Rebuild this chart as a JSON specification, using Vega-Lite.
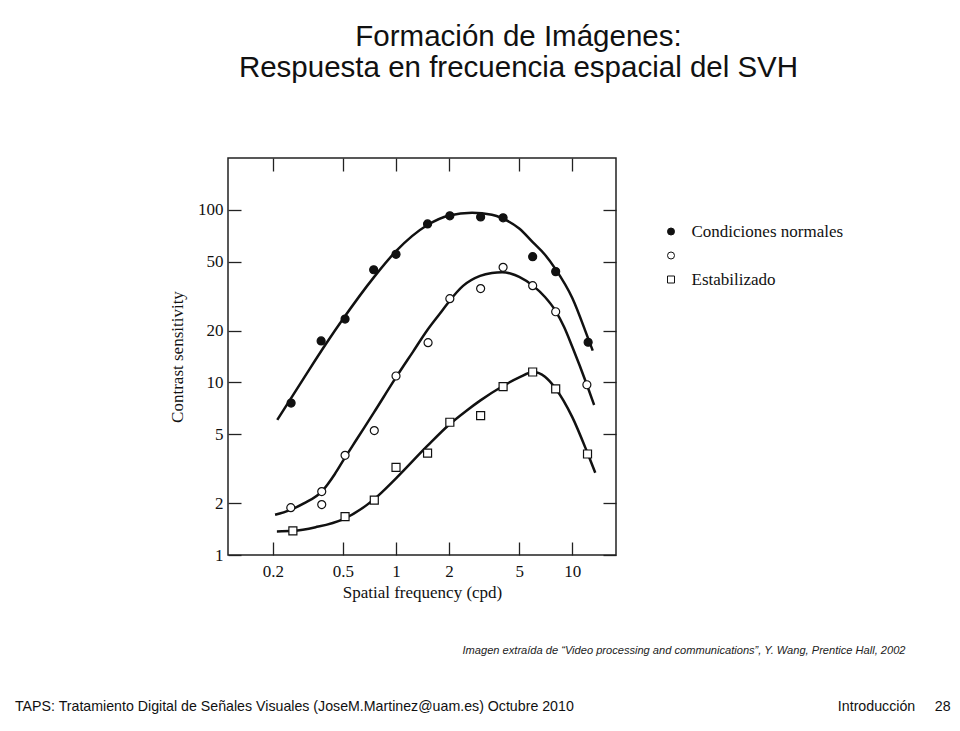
{
  "$schema": "https://vega.github.io/schema/vega-lite/v6.json",
  "width": 388,
  "height": 397,
  "autosize": "none",
  "padding": {"left": 228, "top": 158, "right": 344, "bottom": 176},
  "background": "white",
  "config": {
    "view": {"stroke": "#222", "strokeWidth": 1.5},
    "axis": {
      "domain": false, "grid": false,
      "tickColor": "#222", "tickWidth": 1.3, "tickSize": -13,
      "labelFont": "Liberation Serif", "labelFontSize": 17, "labelColor": "#111",
      "titleFont": "Liberation Serif", "titleFontSize": 17, "titleFontWeight": "normal", "titleColor": "#111"
    },
    "legend": {"symbolStrokeWidth": 1}
  },
  "title": {
    "text": "TAPS: Tratamiento Digital de Señales Visuales (JoseM.Martinez@uam.es) Octubre 2010\u00a0\u00a0\u00a0\u00a0\u00a0\u00a0\u00a0\u00a0\u00a0\u00a0\u00a0\u00a0\u00a0\u00a0\u00a0\u00a0\u00a0\u00a0\u00a0\u00a0\u00a0\u00a0\u00a0\u00a0\u00a0\u00a0\u00a0\u00a0\u00a0\u00a0\u00a0\u00a0\u00a0\u00a0\u00a0\u00a0\u00a0\u00a0\u00a0\u00a0\u00a0\u00a0\u00a0\u00a0\u00a0\u00a0\u00a0\u00a0\u00a0\u00a0\u00a0\u00a0\u00a0\u00a0\u00a0\u00a0\u00a0\u00a0\u00a0\u00a0\u00a0\u00a0\u00a0\u00a0\u00a0\u00a0\u00a0Introducción\u00a0\u00a0\u00a0\u00a0\u00a028",
    "orient": "bottom", "anchor": "start", "frame": "group", "offset": 56, "dx": -213,
    "baseline": "alphabetic", "font": "Liberation Sans", "fontSize": 14.2, "fontWeight": "normal", "color": "#111"
  },
  "datasets": {
    "curves": [
      {"serie": "normal", "f": 0.212, "s": 6.07}, {"serie": "normal", "f": 0.3, "s": 10.6}, {"serie": "normal", "f": 0.4, "s": 16.7},
      {"serie": "normal", "f": 0.5, "s": 23.3}, {"serie": "normal", "f": 0.75, "s": 40.8}, {"serie": "normal", "f": 1.0, "s": 57.7},
      {"serie": "normal", "f": 1.5, "s": 81.5}, {"serie": "normal", "f": 2.0, "s": 92.9}, {"serie": "normal", "f": 2.7, "s": 96.4},
      {"serie": "normal", "f": 3.5, "s": 93.8}, {"serie": "normal", "f": 4.0, "s": 89.5}, {"serie": "normal", "f": 5.0, "s": 78},
      {"serie": "normal", "f": 6.0, "s": 64.6}, {"serie": "normal", "f": 7.0, "s": 55}, {"serie": "normal", "f": 8.0, "s": 45.7},
      {"serie": "normal", "f": 10.0, "s": 30.9}, {"serie": "normal", "f": 12.3, "s": 18}, {"serie": "normal", "f": 13.06, "s": 15.3},
      {"serie": "otro", "f": 0.206, "s": 1.71}, {"serie": "otro", "f": 0.25, "s": 1.82}, {"serie": "otro", "f": 0.3, "s": 1.99},
      {"serie": "otro", "f": 0.38, "s": 2.34}, {"serie": "otro", "f": 0.45, "s": 2.95}, {"serie": "otro", "f": 0.5, "s": 3.51},
      {"serie": "otro", "f": 0.6, "s": 4.7}, {"serie": "otro", "f": 0.75, "s": 6.71}, {"serie": "otro", "f": 1.0, "s": 10.7},
      {"serie": "otro", "f": 1.25, "s": 15.1}, {"serie": "otro", "f": 1.5, "s": 20.0}, {"serie": "otro", "f": 1.776, "s": 25.1},
      {"serie": "otro", "f": 2.0, "s": 29.5}, {"serie": "otro", "f": 2.4, "s": 36.3}, {"serie": "otro", "f": 3.0, "s": 41.5},
      {"serie": "otro", "f": 3.5, "s": 43.1}, {"serie": "otro", "f": 4.0, "s": 43.5}, {"serie": "otro", "f": 4.5, "s": 42.7},
      {"serie": "otro", "f": 5.0, "s": 40.9}, {"serie": "otro", "f": 6.0, "s": 36.3}, {"serie": "otro", "f": 7.0, "s": 31.3},
      {"serie": "otro", "f": 8.0, "s": 26.2}, {"serie": "otro", "f": 9.0, "s": 20.9}, {"serie": "otro", "f": 10.0, "s": 16.1},
      {"serie": "otro", "f": 12.1, "s": 9.7}, {"serie": "otro", "f": 13.3, "s": 7.4},
      {"serie": "estabilizado", "f": 0.211, "s": 1.37}, {"serie": "estabilizado", "f": 0.26, "s": 1.38}, {"serie": "estabilizado", "f": 0.35, "s": 1.45},
      {"serie": "estabilizado", "f": 0.5, "s": 1.61}, {"serie": "estabilizado", "f": 0.75, "s": 2.1}, {"serie": "estabilizado", "f": 1.0, "s": 2.78},
      {"serie": "estabilizado", "f": 1.5, "s": 4.27}, {"serie": "estabilizado", "f": 2.0, "s": 5.69}, {"serie": "estabilizado", "f": 2.5, "s": 6.84},
      {"serie": "estabilizado", "f": 3.0, "s": 7.85}, {"serie": "estabilizado", "f": 4.0, "s": 9.48}, {"serie": "estabilizado", "f": 5.0, "s": 10.7},
      {"serie": "estabilizado", "f": 6.0, "s": 11.5}, {"serie": "estabilizado", "f": 7.0, "s": 10.8}, {"serie": "estabilizado", "f": 8.0, "s": 9.3},
      {"serie": "estabilizado", "f": 10.0, "s": 6.3}, {"serie": "estabilizado", "f": 12.2, "s": 3.9}, {"serie": "estabilizado", "f": 13.5, "s": 3.0}
    ],
    "points": [
      {"serie": "normal", "f": 0.254, "s": 7.6}, {"serie": "normal", "f": 0.376, "s": 17.4}, {"serie": "normal", "f": 0.514, "s": 23.3},
      {"serie": "normal", "f": 0.747, "s": 45}, {"serie": "normal", "f": 1.0, "s": 55.3}, {"serie": "normal", "f": 1.51, "s": 83},
      {"serie": "normal", "f": 2.02, "s": 92.5}, {"serie": "normal", "f": 3.02, "s": 91}, {"serie": "normal", "f": 4.05, "s": 90},
      {"serie": "normal", "f": 5.96, "s": 53.6}, {"serie": "normal", "f": 8.05, "s": 43.9}, {"serie": "normal", "f": 12.3, "s": 17.1},
      {"serie": "otro", "f": 0.253, "s": 1.88}, {"serie": "otro", "f": 0.379, "s": 2.33}, {"serie": "otro", "f": 0.379, "s": 1.96},
      {"serie": "otro", "f": 0.514, "s": 3.78}, {"serie": "otro", "f": 0.753, "s": 5.26}, {"serie": "otro", "f": 1.0, "s": 10.9},
      {"serie": "otro", "f": 1.52, "s": 17.0}, {"serie": "otro", "f": 2.02, "s": 30.6}, {"serie": "otro", "f": 3.02, "s": 35},
      {"serie": "otro", "f": 4.05, "s": 46.5}, {"serie": "otro", "f": 5.96, "s": 36.4}, {"serie": "otro", "f": 8.05, "s": 25.7},
      {"serie": "otro", "f": 12.1, "s": 9.7},
      {"serie": "estabilizado", "f": 0.26, "s": 1.38}, {"serie": "estabilizado", "f": 0.514, "s": 1.67}, {"serie": "estabilizado", "f": 0.753, "s": 2.08},
      {"serie": "estabilizado", "f": 1.0, "s": 3.22}, {"serie": "estabilizado", "f": 1.51, "s": 3.89}, {"serie": "estabilizado", "f": 2.02, "s": 5.88},
      {"serie": "estabilizado", "f": 3.02, "s": 6.42}, {"serie": "estabilizado", "f": 4.05, "s": 9.46}, {"serie": "estabilizado", "f": 5.96, "s": 11.5},
      {"serie": "estabilizado", "f": 8.05, "s": 9.17}, {"serie": "estabilizado", "f": 12.2, "s": 3.85}
    ]
  },
  "layer": [
    {
      "data": {"name": "curves"},
      "mark": {"type": "line", "interpolate": "monotone", "stroke": "#111", "strokeWidth": 2.5},
      "encoding": {
        "x": {"field": "f", "type": "quantitative",
              "scale": {"type": "log", "domain": [0.1114, 17.7], "nice": false},
              "axis": {"orient": "bottom", "values": [0.2, 0.5, 1, 2, 5, 10], "format": "~g", "labelPadding": 21,
                       "title": "Spatial frequency (cpd)", "titleY": 42, "titleBaseline": "alphabetic"}},
        "y": {"field": "s", "type": "quantitative",
              "scale": {"type": "log", "domain": [1, 200], "nice": false},
              "axis": {"orient": "left", "values": [1, 2, 5, 10, 20, 50, 100], "format": "~g", "labelPadding": 18,
                       "title": "Contrast sensitivity", "titleX": -46, "titleY": 198.5, "titleBaseline": "alphabetic", "titleAngle": -90}},
        "detail": {"field": "serie", "type": "nominal"}
      }
    },
    {
      "data": {"name": "points"},
      "mark": {"type": "point", "filled": true, "strokeWidth": 1.2, "opacity": 1, "size": 64},
      "encoding": {
        "x": {"field": "f", "type": "quantitative",
              "scale": {"type": "log", "domain": [0.1114, 17.7], "nice": false},
              "axis": {"orient": "top", "values": [0.2, 0.5, 1, 2, 5, 10], "labels": false,
                       "title": ["Formación de Imágenes:", "Respuesta en frecuencia espacial del SVH"],
                       "titleFont": "Liberation Sans", "titleFontSize": 29.5, "titleColor": "#111",
                       "titleX": 290, "titleY": -113, "titleAlign": "center", "titleBaseline": "alphabetic",
                       "titleAngle": 0, "titleLineHeight": 31}},
        "y": {"field": "s", "type": "quantitative",
              "scale": {"type": "log", "domain": [1, 200], "nice": false},
              "axis": {"orient": "right", "values": [1, 2, 5, 10, 20, 50, 100], "labels": false,
                       "title": "Imagen extraída de “Video processing and communications”, Y. Wang, Prentice Hall, 2002",
                       "titleFont": "Liberation Sans", "titleFontSize": 11.1, "titleFontStyle": "italic", "titleColor": "#222",
                       "titleX": 289, "titleY": 495, "titleAlign": "right", "titleBaseline": "alphabetic", "titleAngle": 0}},
        "shape": {"field": "serie", "type": "nominal",
                  "scale": {"domain": ["normal", "otro", "estabilizado"], "range": ["circle", "circle", "square"]},
                  "legend": {"orient": "none", "legendX": 434.5, "legendY": 65, "title": null, "padding": 0,
                             "symbolSize": 49, "labelOffset": 12, "rowPadding": 6,
                             "labelFont": "Liberation Serif", "labelFontSize": 17, "labelColor": "#111",
                             "labelExpr": "datum.value == 'normal' ? 'Condiciones normales' : datum.value == 'estabilizado' ? 'Estabilizado' : ''"}},
        "fill": {"field": "serie", "type": "nominal",
                 "scale": {"domain": ["normal", "otro", "estabilizado"], "range": ["#111", "white", "white"]},
                 "legend": {"orient": "none", "legendX": 434.5, "legendY": 65, "title": null, "padding": 0,
                            "symbolSize": 49, "labelOffset": 12, "rowPadding": 6,
                            "labelFont": "Liberation Serif", "labelFontSize": 17, "labelColor": "#111",
                            "labelExpr": "datum.value == 'normal' ? 'Condiciones normales' : datum.value == 'estabilizado' ? 'Estabilizado' : ''"}},
        "stroke": {"field": "serie", "type": "nominal",
                   "scale": {"domain": ["normal", "otro", "estabilizado"], "range": ["#111", "#111", "#111"]},
                   "legend": {"orient": "none", "legendX": 434.5, "legendY": 65, "title": null, "padding": 0,
                              "symbolSize": 49, "labelOffset": 12, "rowPadding": 6,
                              "labelFont": "Liberation Serif", "labelFontSize": 17, "labelColor": "#111",
                              "labelExpr": "datum.value == 'normal' ? 'Condiciones normales' : datum.value == 'estabilizado' ? 'Estabilizado' : ''"}}
      }
    }
  ],
  "resolve": {"axis": {"x": "independent", "y": "independent"}}
}
